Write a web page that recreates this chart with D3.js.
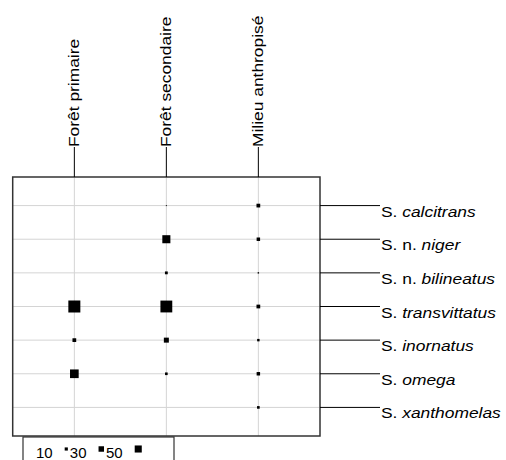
<!DOCTYPE html>
<meta charset="utf-8">
<html>
<head><title>Simulium by habitat</title>
<script src="https://d3js.org/d3.v7.min.js"></script>
<style>
    body { margin: 0; background: #fff; }
    text { font-family: "Liberation Sans", Arial, sans-serif; fill: #000; }
    .grid { stroke: #d4d4d4; stroke-width: 1; }
    .frame { fill: none; stroke: #333; stroke-width: 1.5; }
    .tick { stroke: #000; stroke-width: 1; }
</style>
</head>
<body>
<script>
// habitats (columns) and species (rows)
var habitats = ["Forêt primaire", "Forêt secondaire", "Milieu anthropisé"];
var speciesPrefix = ["S. ", "S. n. ", "S. n. ", "S. ", "S. ", "S. ", "S. "];
var speciesName = ["calcitrans", "niger", "bilineatus", "transvittatus", "inornatus", "omega", "xanthomelas"];

// abundance per habitat, in species order
var foretPrimaire   = [0, 0, 0, 144, 14, 75, 0];
var foretSecondaire = [1, 65, 8, 140, 25, 7, 0];
var milieuAnthrop   = [14, 12, 2, 14, 6, 12, 7];
var legendValues = [10, 30, 50];

var W = 506, H = 460;
var box = {left: 12.7, right: 320, top: 177, bottom: 436};

var svg = d3.select("body").append("svg")
    .attr("width", W).attr("height", H);

var x = d3.scalePoint().domain(habitats)
    .range([box.left, box.right]).padding(0.67);
var y = d3.scalePoint().domain(speciesName)
    .range([box.top, box.bottom]).padding(0.85);
var side = d3.scaleSqrt().domain([0, 144]).range([0, 12]);

var cells = [];
var series = [foretPrimaire, foretSecondaire, milieuAnthrop];
series.forEach(function(s, j) {
    s.forEach(function(v, i) {
        cells.push({col: habitats[j], row: speciesName[i], v: v});
    });
});

// grid
svg.selectAll("line.hgrid").data(speciesName).enter().append("line")
    .attr("class", "grid")
    .attr("x1", box.left).attr("x2", box.right)
    .attr("y1", function(d) { return y(d); }).attr("y2", function(d) { return y(d); });
svg.selectAll("line.vgrid").data(habitats).enter().append("line")
    .attr("class", "grid")
    .attr("x1", function(d) { return x(d); }).attr("x2", function(d) { return x(d); })
    .attr("y1", box.top).attr("y2", box.bottom);

// squares
svg.selectAll("rect.cell").data(cells.filter(function(c) { return c.v > 0; }))
    .enter().append("rect")
    .attr("class", "cell")
    .attr("x", function(d) { return x(d.col) - side(d.v) / 2; })
    .attr("y", function(d) { return y(d.row) - side(d.v) / 2; })
    .attr("width", function(d) { return side(d.v); })
    .attr("height", function(d) { return side(d.v); })
    .attr("fill", "#000");

svg.append("rect").attr("class", "frame")
    .attr("x", box.left).attr("y", box.top)
    .attr("width", box.right - box.left).attr("height", box.bottom - box.top);

// column labels
var colLab = svg.selectAll("g.col").data(habitats).enter().append("g").attr("class", "col");
colLab.append("line").attr("class", "tick")
    .attr("x1", function(d) { return x(d); }).attr("x2", function(d) { return x(d); })
    .attr("y1", box.top - 30).attr("y2", box.top);
colLab.append("text")
    .attr("transform", function(d) {
        return "translate(" + (x(d) + 4.5) + "," + (box.top - 30) + ") rotate(-90) scale(1.2,1)";
    })
    .style("font-size", "14.5px")
    .text(function(d) { return d; });

// row labels
var rowLab = svg.selectAll("g.row").data(speciesName).enter().append("g").attr("class", "row");
rowLab.append("line").attr("class", "tick")
    .attr("x1", box.right).attr("x2", box.right + 60)
    .attr("y1", function(d) { return y(d); }).attr("y2", function(d) { return y(d); });
var rowText = rowLab.append("text")
    .attr("transform", function(d) {
        return "translate(" + (box.right + 61) + "," + (y(d) + 11) + ") scale(1.2,1)";
    })
    .style("font-size", "14.5px");
rowText.append("tspan").text(function(d, i) { return speciesPrefix[i]; });
rowText.append("tspan").style("font-style", "italic").text(function(d) { return d; });

// legend
var leg = svg.append("g");
leg.append("rect")
    .attr("x", 23).attr("y", box.bottom + 1)
    .attr("width", 151).attr("height", 40)
    .attr("fill", "#fff").attr("stroke", "#333").attr("stroke-width", 1.2);
var lx = 36;
legendValues.forEach(function(v) {
    var t = leg.append("text").attr("x", lx).attr("y", 458)
        .style("font-size", "15px").text(v);
    lx += t.node().getComputedTextLength() + 12;
    leg.append("rect")
        .attr("x", lx).attr("y", 449 - side(v) / 2)
        .attr("width", side(v)).attr("height", side(v))
        .attr("fill", "#000");
    lx += side(v) + 2;
});
</script>
</body>
</html>
